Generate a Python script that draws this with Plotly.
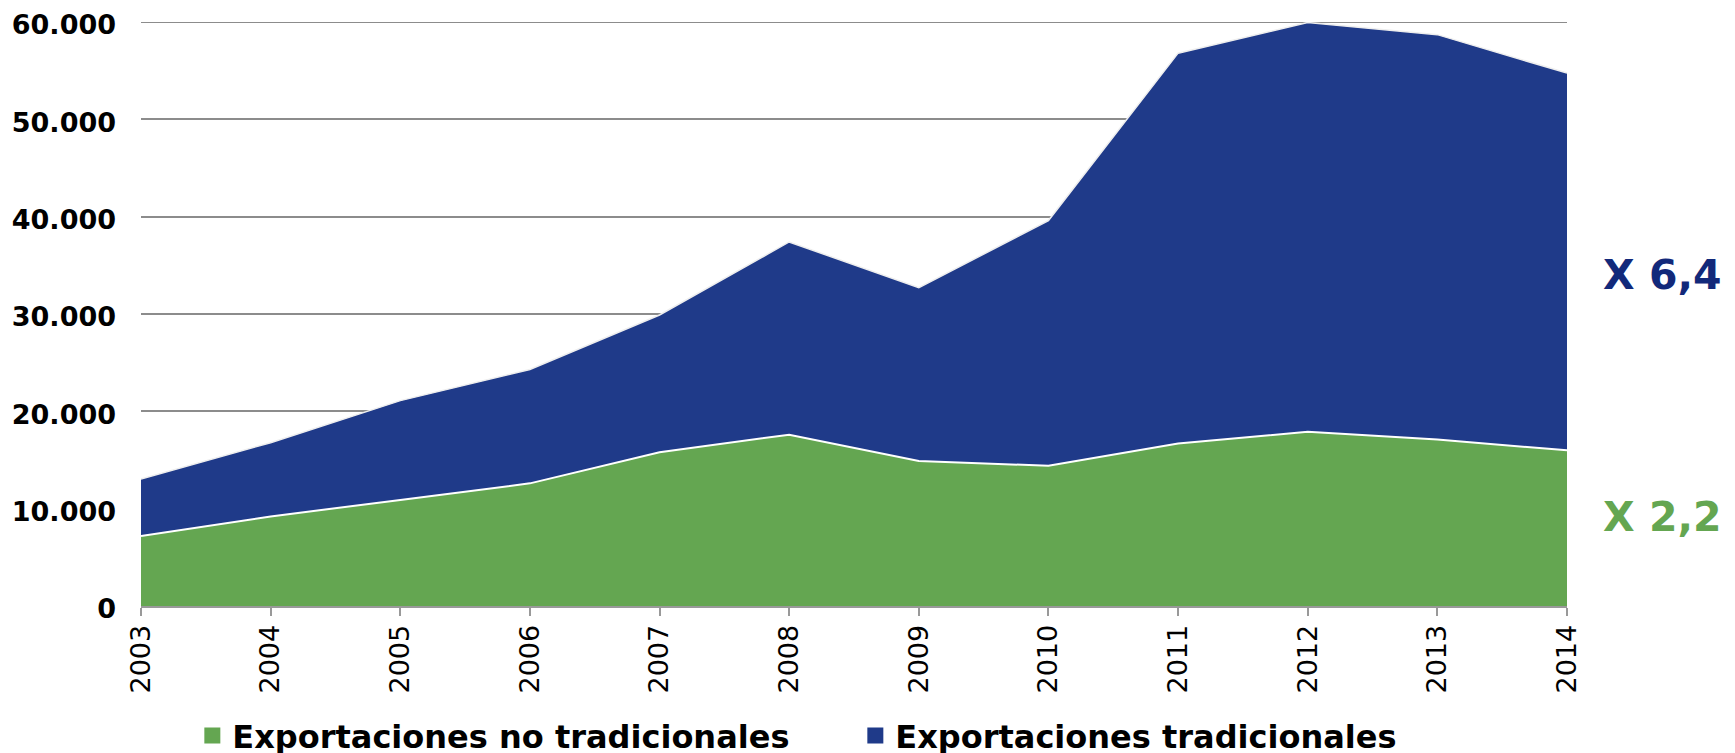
import plotly.graph_objects as go

years = [2003, 2004, 2005, 2006, 2007, 2008, 2009, 2010, 2011, 2012, 2013, 2014]
no_tradicionales = [7200, 9200, 10900, 12600, 15800, 17600, 14900, 14400, 16700, 17900, 17100, 16000]
tradicionales = [5850, 7580, 10200, 11700, 14100, 19800, 17800, 25200, 40100, 42050, 41600, 38750]
y_ticks = [0, 10000, 20000, 30000, 40000, 50000, 60000]
y_ticktext = ["0", "10.000", "20.000", "30.000", "40.000", "50.000", "60.000"]
names = ["Exportaciones no tradicionales", "Exportaciones tradicionales"]
green = "#64A651"
blue = "#1F3A89"

fig = go.Figure()
fig.add_trace(go.Scatter(x=years, y=no_tradicionales, stackgroup="one", mode="lines",
                         line=dict(color="white", width=2), fillcolor=green,
                         name=names[0], showlegend=False))
fig.add_trace(go.Scatter(x=years, y=tradicionales, stackgroup="one", mode="lines",
                         line=dict(color="#eeeeee", width=1.5), fillcolor=blue,
                         name=names[1], showlegend=False))
# legend entries
for nm, col in zip(names, [green, blue]):
    fig.add_trace(go.Scatter(x=[None], y=[None], mode="markers", name=nm,
                             marker=dict(symbol="square", size=19, color=col)))

fig.add_annotation(text="X 6,4", xref="paper", yref="y", x=1.0238, y=34000,
                   xanchor="left", yanchor="middle", showarrow=False,
                   font=dict(family="DejaVu Sans", size=41, color="#12297A", weight="bold"))
fig.add_annotation(text="X 2,2", xref="paper", yref="y", x=1.0238, y=9150,
                   xanchor="left", yanchor="middle", showarrow=False,
                   font=dict(family="DejaVu Sans", size=41, color=green, weight="bold"))

# top gridline at the edge of the plot area
fig.add_shape(type="line", xref="paper", yref="y", x0=0, x1=1, y0=60000, y1=60000,
              line=dict(color="#8c8c8c", width=2), layer="below")

fig.update_layout(
    width=1735, height=753,
    margin=dict(l=133, r=176, t=14, b=155, autoexpand=False),
    plot_bgcolor="white", paper_bgcolor="white",
    font=dict(family="DejaVu Sans", color="black"),
    legend=dict(orientation="h", x=0.036, xanchor="left", y=-0.222, yanchor="middle",
                font=dict(family="DejaVu Sans", size=32, color="black", weight="bold"),
                entrywidth=618, entrywidthmode="pixels", traceorder="normal",
                bgcolor="rgba(0,0,0,0)"),
    xaxis=dict(range=[2003, 2014], tickvals=years, ticktext=[str(y) for y in years],
               tickangle=-90, ticks="outside", ticklen=8, tickcolor="#999999", tickwidth=2,
               showline=True, linecolor="#999999", linewidth=2, showgrid=False,
               zeroline=False, tickfont=dict(family="DejaVu Sans", size=27, color="black"),
               ticklabelstandoff=-2, automargin=False, fixedrange=True),
    yaxis=dict(range=[0, 60000], tickvals=y_ticks, ticktext=y_ticktext,
               showgrid=True, gridcolor="#8c8c8c", gridwidth=2, zeroline=False,
               showline=False, ticks="", ticklabeloverflow="allow", ticklabelshift=3,
               tickfont=dict(family="DejaVu Sans", size=27, color="black", weight="bold"),
               ticklabelstandoff=24, automargin=False, fixedrange=True),
)

fig.write_html("out.html")
